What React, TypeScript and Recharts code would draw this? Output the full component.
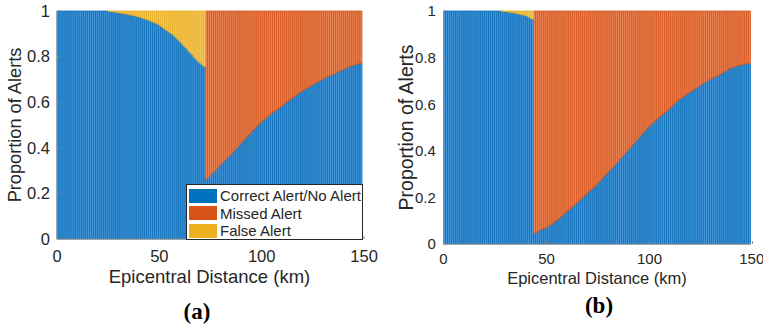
import {
  BarChart,
  Bar,
  XAxis,
  YAxis,
  Label,
} from "recharts";

// ── Data (proportion of "Correct Alert/No Alert" per 1 km bin) ──────
const KM = Array.from({ length: 150 }, (_, i) => i + 1);

const CORRECT_A = [
  1, 1, 1, 1, 1, 1, 1, 1, 1, 1,
  1, 1, 1, 1, 1, 1, 1, 1, 1, 1,
  1, 1, 1, 1, 1, 0.999, 0.998, 0.997, 0.995, 0.994,
  0.992, 0.991, 0.989, 0.988, 0.986, 0.984, 0.982, 0.98, 0.978, 0.976,
  0.974, 0.971, 0.968, 0.965, 0.962, 0.959, 0.955, 0.951, 0.947, 0.943,
  0.938, 0.932, 0.925, 0.918, 0.912, 0.906, 0.9, 0.893, 0.884, 0.875,
  0.866, 0.856, 0.846, 0.838, 0.828, 0.818, 0.808, 0.797, 0.788, 0.779,
  0.771, 0.764, 0.757, 0.262, 0.27, 0.28, 0.288, 0.297, 0.306, 0.316,
  0.326, 0.335, 0.345, 0.352, 0.362, 0.37, 0.38, 0.39, 0.4, 0.41,
  0.42, 0.43, 0.44, 0.449, 0.458, 0.468, 0.478, 0.488, 0.497, 0.506,
  0.515, 0.522, 0.53, 0.537, 0.545, 0.552, 0.558, 0.564, 0.57, 0.576,
  0.584, 0.591, 0.598, 0.604, 0.61, 0.617, 0.624, 0.63, 0.637, 0.643,
  0.649, 0.654, 0.66, 0.665, 0.67, 0.675, 0.68, 0.686, 0.69, 0.695,
  0.7, 0.705, 0.71, 0.714, 0.718, 0.72, 0.724, 0.729, 0.734, 0.738,
  0.742, 0.746, 0.75, 0.754, 0.758, 0.761, 0.764, 0.767, 0.769, 0.771,
];

const CORRECT_B = [
  1, 1, 1, 1, 1, 1, 1, 1, 1, 1,
  1, 1, 1, 1, 1, 1, 1, 1, 1, 1,
  1, 1, 1, 1, 1, 1, 1, 1, 0.999, 0.998,
  0.997, 0.996, 0.994, 0.993, 0.991, 0.99, 0.988, 0.986, 0.984, 0.982,
  0.979, 0.975, 0.97, 0.965, 0.046, 0.05, 0.055, 0.06, 0.064, 0.068,
  0.071, 0.076, 0.082, 0.089, 0.096, 0.103, 0.11, 0.118, 0.126, 0.134,
  0.141, 0.149, 0.157, 0.164, 0.172, 0.18, 0.188, 0.196, 0.205, 0.214,
  0.222, 0.229, 0.236, 0.244, 0.252, 0.262, 0.271, 0.281, 0.291, 0.3,
  0.309, 0.318, 0.327, 0.336, 0.345, 0.355, 0.365, 0.375, 0.385, 0.395,
  0.405, 0.415, 0.425, 0.436, 0.446, 0.456, 0.466, 0.476, 0.486, 0.496,
  0.505, 0.514, 0.522, 0.53, 0.538, 0.546, 0.553, 0.56, 0.567, 0.574,
  0.582, 0.591, 0.6, 0.608, 0.616, 0.622, 0.628, 0.634, 0.64, 0.646,
  0.652, 0.658, 0.664, 0.669, 0.675, 0.681, 0.687, 0.692, 0.697, 0.702,
  0.707, 0.711, 0.716, 0.72, 0.724, 0.729, 0.734, 0.739, 0.745, 0.751,
  0.755, 0.758, 0.761, 0.764, 0.767, 0.769, 0.771, 0.772, 0.774, 0.776,
];

// last km bin that still has false alerts; after it the rest is missed
const FALSE_END_A = 73;
const FALSE_END_B = 44;

const X_TICKS = [0, 50, 100, 150];
const Y_TICKS = [0, 0.2, 0.4, 0.6, 0.8, 1];
const SERIES = ["Correct Alert/No Alert", "Missed Alert", "False Alert"];

// ── Colours (MATLAB default order) ──────────────────────────────────
const SWATCH = ["#0072BD", "#D95319", "#EDB120"];
const FILL = ["#4898da", "#ea8658", "#f5ca62"];
const EDGE = ["#0a6db8", "#d6541c", "#e9ad22"];

const AXIS = "#8a8a8a";
const TEXT = "#262626";
const FONT = "'Liberation Sans', Arial, sans-serif";

function buildRows(correct: number[], falseEnd: number) {
  return KM.map((km, i) => {
    const c = correct[i];
    const rest = Math.round((1 - c) * 1000) / 1000;
    return {
      km,
      correct: c,
      missed: km > falseEnd ? rest : 0,
      falseAlert: km <= falseEnd ? rest : 0,
    };
  });
}

const ROWS_A = buildRows(CORRECT_A, FALSE_END_A);
const ROWS_B = buildRows(CORRECT_B, FALSE_END_B);

function LegendBox({ left, top }: { left: number; top: number }) {
  return (
    <div
      style={{
        position: "absolute",
        left,
        top,
        width: 177,
        height: 56,
        background: "#fff",
        border: `1px solid ${TEXT}`,
        fontFamily: FONT,
        fontSize: 15,
        color: TEXT,
        boxSizing: "border-box",
        paddingTop: 2,
        whiteSpace: "nowrap",
      }}
    >
      {SERIES.map((s, i) => (
        <div key={s} style={{ display: "flex", alignItems: "center", height: 17.5 }}>
          <span
            style={{
              display: "inline-block",
              width: 28,
              height: 14,
              marginLeft: 2,
              marginRight: 3,
              background: SWATCH[i],
            }}
          />
          <span style={{ lineHeight: "17px" }}>{s}</span>
        </div>
      ))}
    </div>
  );
}

interface PanelProps {
  rows: ReturnType<typeof buildRows>;
  left: number;
  marginLeft: number;
  marginRight: number;
  marginBottom: number;
  tickFont: number;
  labelFont: number;
  yLabelFont: number;
  yLabelOffset: number;
  xTickMargin: number;
  xLabelOffset: number;
  yTickMargin: number;
}

function Panel(p: PanelProps) {
  const tick = { fontSize: p.tickFont, fill: TEXT, fontFamily: FONT };
  return (
    <div style={{ position: "absolute", left: p.left, top: 0 }}>
      <BarChart
        width={380}
        height={328}
        data={p.rows}
        barCategoryGap={0}
        barGap={0}
        margin={{ top: 11, right: p.marginRight, bottom: p.marginBottom, left: p.marginLeft }}
      >
        <XAxis dataKey="km" type="category" hide height={0} />
        <XAxis
          xAxisId="num"
          type="number"
          domain={[0, 150]}
          ticks={X_TICKS}
          allowDataOverflow
          height={30}
          tick={tick}
          stroke={AXIS}
          tickSize={-3}
          tickMargin={p.xTickMargin}
        >
          <Label
            value="Epicentral Distance (km)"
            position="bottom"
            offset={p.xLabelOffset}
            style={{ fontSize: p.labelFont, fill: TEXT, fontFamily: FONT }}
          />
        </XAxis>
        <XAxis
          xAxisId="top"
          orientation="top"
          type="number"
          domain={[0, 150]}
          ticks={X_TICKS}
          allowDataOverflow
          height={0}
          tick={false}
          stroke={AXIS}
          tickSize={-3}
        />
        <YAxis
          type="number"
          domain={[0, 1]}
          ticks={Y_TICKS}
          width={45}
          tick={tick}
          stroke={AXIS}
          tickSize={-3}
          tickMargin={p.yTickMargin}
          tickFormatter={(v: number) => String(v)}
        >
          <Label
            value="Proportion of Alerts"
            angle={-90}
            position="insideLeft"
            offset={p.yLabelOffset}
            style={{ fontSize: p.yLabelFont, fill: TEXT, fontFamily: FONT, textAnchor: "middle" }}
          />
        </YAxis>
        <YAxis
          yAxisId="right"
          orientation="right"
          type="number"
          domain={[0, 1]}
          ticks={Y_TICKS}
          width={0}
          tick={false}
          stroke={AXIS}
          tickSize={-3}
        />
        <Bar dataKey="correct" stackId="s" fill={FILL[0]} stroke={EDGE[0]} strokeWidth={0.8} isAnimationActive={false} />
        <Bar dataKey="missed" stackId="s" fill={FILL[1]} stroke={EDGE[1]} strokeWidth={0.8} isAnimationActive={false} />
        <Bar dataKey="falseAlert" stackId="s" fill={FILL[2]} stroke={EDGE[2]} strokeWidth={0.8} isAnimationActive={false} />
      </BarChart>
    </div>
  );
}

const titleStyle = {
  position: "absolute" as const,
  fontFamily: "'Liberation Serif', 'Times New Roman', serif",
  fontWeight: 700,
  fontSize: 23,
  color: "#000",
  transform: "translate(-50%, -50%)",
  whiteSpace: "nowrap" as const,
};

export default function App() {
  return (
    <div
      style={{
        position: "absolute",
        left: 0,
        top: 0,
        width: 763,
        height: 328,
        background: "#fff",
        overflow: "hidden",
      }}
    >
      <Panel
        rows={ROWS_A}
        left={0}
        marginLeft={12}
        marginRight={18}
        marginBottom={59}
        tickFont={16.5}
        labelFont={18.5}
        yLabelFont={18.2}
        yLabelOffset={3}
        xTickMargin={14}
        xLabelOffset={1}
        yTickMargin={10}
      />
      <LegendBox left={186} top={184} />
      <Panel
        rows={ROWS_B}
        left={383}
        marginLeft={15.5}
        marginRight={12.5}
        marginBottom={54}
        tickFont={15}
        labelFont={16.5}
        yLabelFont={19.5}
        yLabelOffset={7.5}
        xTickMargin={12.6}
        xLabelOffset={-2}
        yTickMargin={10.7}
      />
      <div style={{ ...titleStyle, left: 197, top: 312 }}>(a)</div>
      <div style={{ ...titleStyle, left: 599, top: 306 }}>(b)</div>
    </div>
  );
}
